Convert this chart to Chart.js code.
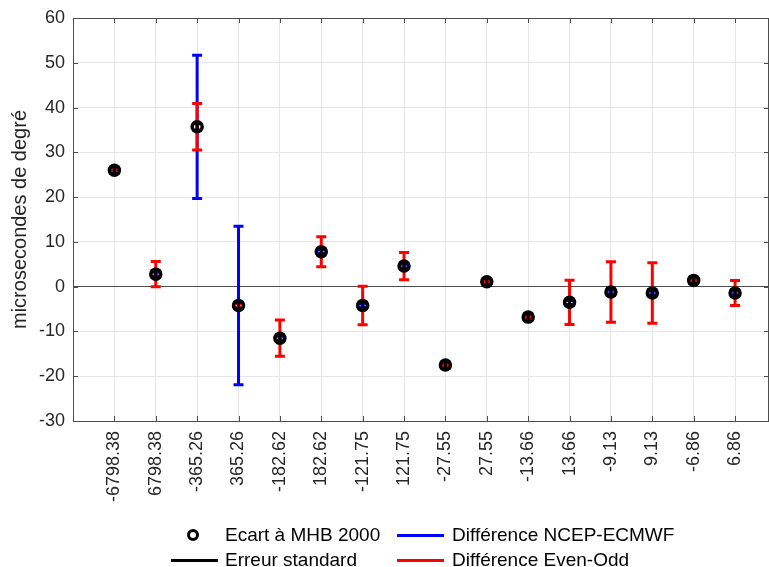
<!DOCTYPE html>
<html>
<head>
<meta charset="utf-8">
<script src="https://cdn.jsdelivr.net/npm/chart.js@4/dist/chart.umd.min.js"></script>
<style>
  body { margin: 0; background: #fff; }
  #wrap { position: relative; width: 769px; height: 567px; overflow: hidden; }
  canvas { display: block; }
  .lg { position: absolute; font: 19px "Liberation Sans", Arial, sans-serif; color: #000; line-height: 22px; white-space: nowrap; }
  .ln { position: absolute; height: 3px; width: 47px; }
  .mk { position: absolute; width: 6px; height: 6px; border: 3px solid #000; border-radius: 50%; }
</style>
</head>
<body>
<div id="wrap">
  <canvas id="c" width="769" height="567"></canvas>
  <div class="mk" style="left:187px;top:529px"></div>
  <div class="lg" style="left:225px;top:524px">Ecart à MHB 2000</div>
  <div class="ln" style="left:397px;top:534px;background:#0000ff"></div>
  <div class="lg" style="left:452px;top:524px">Différence NCEP-ECMWF</div>
  <div class="ln" style="left:171px;top:559px;background:#000"></div>
  <div class="lg" style="left:225px;top:549px">Erreur standard</div>
  <div class="ln" style="left:397px;top:559px;background:#ff0000"></div>
  <div class="lg" style="left:452px;top:549px">Différence Even-Odd</div>
</div>
<script>
// periods (days) on the x axis
const periods = ['-6798.38', '6798.38', '-365.26', '365.26', '-182.62', '182.62', '-121.75', '121.75',
                 '-27.55', '27.55', '-13.66', '13.66', '-9.13', '9.13', '-6.86', '6.86'];
// ecart a MHB 2000 (microsecondes de degre)
const ecart = [26.0, 2.8, 35.7, -4.2, -11.5, 7.8, -4.2, 4.6, -17.5, 1.1, -6.8, -3.5, -1.2, -1.4, 1.4, -1.4];
// half widths of the error bars
const errNcep = [0.3, 0.4, 16.0, 17.7, 0.4, 0.4, 0.4, 0.4, 0.4, 0.3, 0.4, 0.4, 0.4, 0.4, 0.4, 0.4];
const errEvenOdd = [0.4, 2.8, 5.2, 0.4, 4.05, 3.35, 4.3, 3.05, 0.3, 0.4, 0.3, 4.95, 6.75, 6.75, 0.3, 2.8];
const errStd = [0.7, 0.7, 0.7, 0.7, 0.7, 0.7, 0.7, 0.7, 0.7, 0.7, 0.7, 0.7, 0.7, 0.7, 0.7, 0.7];
const yTicks = [-30, -20, -10, 0, 10, 20, 30, 40, 50, 60];

Chart.defaults.font.family = '"Liberation Sans", Arial, sans-serif';
Chart.defaults.font.size = 18;
Chart.defaults.color = '#262626';

const errorBars = {
  id: 'errorBars',
  beforeDatasetsDraw(chart) {
    const { ctx, chartArea, scales: { x, y } } = chart;
    ctx.save();
    ctx.beginPath();
    ctx.rect(chartArea.left, chartArea.top, chartArea.width, chartArea.height);
    ctx.clip();
    ctx.lineWidth = 3;
    const draw = (errs, color) => {
      ctx.strokeStyle = color;
      errs.forEach((e, i) => {
        const px = x.getPixelForValue(i + 1);
        const top = y.getPixelForValue(ecart[i] + e);
        const bot = y.getPixelForValue(ecart[i] - e);
        ctx.beginPath();
        ctx.moveTo(px, top); ctx.lineTo(px, bot);
        ctx.moveTo(px - 5, top); ctx.lineTo(px + 5, top);
        ctx.moveTo(px - 5, bot); ctx.lineTo(px + 5, bot);
        ctx.stroke();
      });
    };
    draw(errNcep, '#0000ff');
    draw(errEvenOdd, '#ff0000');
    draw(errStd, '#000000');
    ctx.restore();
  },
  afterDraw(chart) {
    // box with inward ticks
    const { ctx, chartArea: a, scales: { x, y } } = chart;
    ctx.save();
    ctx.strokeStyle = '#4d4d4d';
    ctx.lineWidth = 1;
    ctx.strokeRect(a.left + 0.5, a.top + 0.5, a.right - a.left - 1, a.bottom - a.top);
    ctx.beginPath();
    x.ticks.forEach(t => {
      const px = Math.round(x.getPixelForValue(t.value)) + 0.5;
      ctx.moveTo(px, a.bottom); ctx.lineTo(px, a.bottom - 5);
      ctx.moveTo(px, a.top); ctx.lineTo(px, a.top + 5);
    });
    y.ticks.forEach(t => {
      const py = Math.round(y.getPixelForValue(t.value)) + 0.5;
      ctx.moveTo(a.left, py); ctx.lineTo(a.left + 5, py);
      ctx.moveTo(a.right, py); ctx.lineTo(a.right - 5, py);
    });
    ctx.stroke();
    ctx.restore();
  }
};

new Chart(document.getElementById('c'), {
  type: 'scatter',
  data: {
    datasets: [{
      label: 'Ecart à MHB 2000',
      data: ecart.map((v, i) => ({ x: i + 1, y: v })),
      pointRadius: 5,
      pointBorderWidth: 3.5,
      pointBorderColor: '#000',
      pointBackgroundColor: 'rgba(0,0,0,0)'
    }]
  },
  options: {
    responsive: false,
    animation: false,
    layout: { autoPadding: false, padding: { top: 18, right: 0, left: 0, bottom: 0 } },
    plugins: { legend: { display: false }, tooltip: { enabled: false } },
    scales: {
      x: {
        type: 'linear', min: 0, max: 16.82,
        afterBuildTicks: s => { s.ticks = periods.map((p, i) => ({ value: i + 1 })); },
        afterFit: s => { s.height = 146; s.paddingLeft = 0; s.paddingRight = 0; },
        ticks: { callback: v => periods[v - 1], autoSkip: false, minRotation: 90, maxRotation: 90, padding: 10 },
        grid: { color: '#e6e6e6', drawTicks: false },
        border: { display: false }
      },
      y: {
        min: -30, max: 60,
        afterBuildTicks: s => { s.ticks = yTicks.map(v => ({ value: v })); },
        afterFit: s => { s.width = 73; s.paddingTop = 0; s.paddingBottom = 0; },
        ticks: { padding: 8 },
        grid: { color: c => c.tick.value === 0 ? '#4d4d4d' : '#e6e6e6', drawTicks: false },
        border: { display: false },
        title: { display: true, text: 'microsecondes de degré', font: { size: 20 }, padding: { top: 8, bottom: 0 }, color: '#262626' }
      }
    }
  },
  plugins: [errorBars]
});
</script>
</body>
</html>
